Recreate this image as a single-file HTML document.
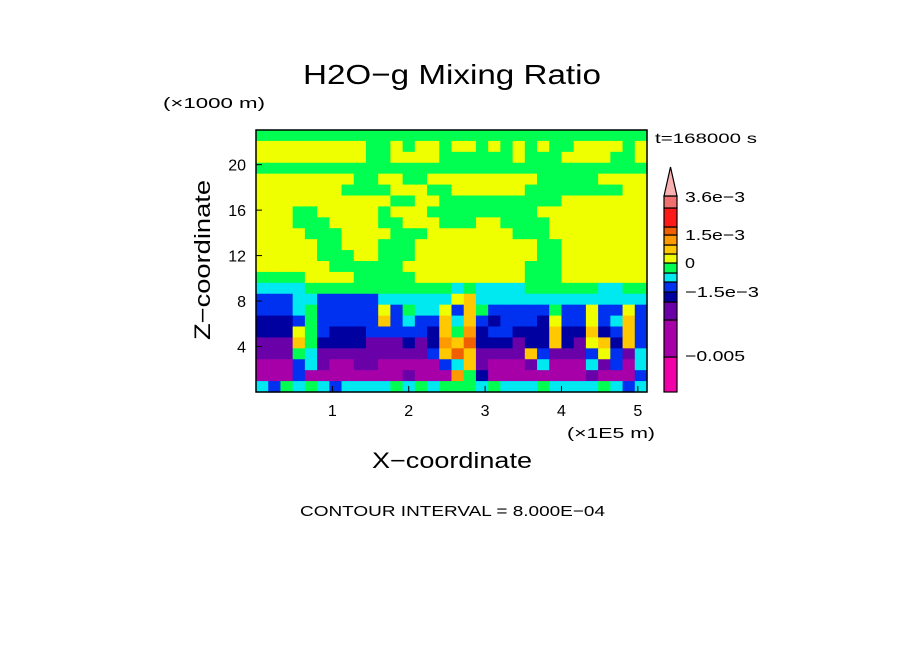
<!DOCTYPE html>
<html><head><meta charset="utf-8"><style>
body{margin:0;background:#fff;width:904px;height:654px;overflow:hidden}
svg text{font-family:"Liberation Sans",sans-serif;fill:#000}
</style></head><body>
<svg id="chart" width="904" height="654" xmlns="http://www.w3.org/2000/svg">
<text x="303" y="84" font-size="28" textLength="298" lengthAdjust="spacingAndGlyphs">H2O−g Mixing Ratio</text>
<text x="163" y="108" font-size="15" textLength="102" lengthAdjust="spacingAndGlyphs">(×1000 m)</text>
<text x="655" y="143" font-size="14" textLength="102" lengthAdjust="spacingAndGlyphs">t=168000 s</text>
<g id="field"></g>
<rect x="256" y="130" width="391" height="262" fill="none" stroke="#000" stroke-width="1.5"/>
<g id="ticks"></g>
<text x="567" y="438" font-size="15" textLength="88" lengthAdjust="spacingAndGlyphs">(×1E5 m)</text>
<text x="372" y="468" font-size="22" textLength="160" lengthAdjust="spacingAndGlyphs">X−coordinate</text>
<text transform="translate(210,340) rotate(-90)" font-size="22" textLength="160" lengthAdjust="spacingAndGlyphs">Z−coordinate</text>
<g id="cbar"></g>
<text x="300" y="516" font-size="15" textLength="305" lengthAdjust="spacingAndGlyphs">CONTOUR INTERVAL = 8.000E−04</text>
</svg>
<script>
const levelColors=["#f000a8","#a800a8","#6a00a8","#0000a0","#0030f0","#00e8f0","#00ff50","#f0ff00","#ffc800","#ff9900","#f06000","#ff1a1a","#f07070"];
const xTicks=[1,2,3,4,5];
const zTicks=[4,8,12,16,20];
const cbarLabels=["3.6e−3","1.5e−3","0","−1.5e−3","−0.005"];
const cbarLabelY=[197,235,263,292,356];
const cbarLabelW=[60,60,10,74,60];
const fieldRows=[
"66666666666666666666666666666666",
"77777777766767767767676766777767",
"77777777766777766666676667777667",
"66666666666666666666666666666666",
"77777777667766777777777666667777",
"77777776666777667777776666666677",
"77777777777667766666666667777777",
"77766777776777666666666777777777",
"77766677776677766677666677777777",
"77776667777666777777766677777777",
"77777667776667777777777667777777",
"77777666776667777777777667777777",
"77777766666677777777776667777777",
"66667777666667777777776667777777",
"55556666666666665655556666665566",
"44455444445555557855555555555555",
"44456444447465574864444464474474",
"33346444448454485843444374474584",
"33376433344444386934433383383484",
"22286333322232398a33323383278384",
"2226522222222248a822228422247425",
"11145211221111145821112511152415",
"11141111111121119631111111121114",
"54656545555656566656555655556545"];
const X0=256,Y0=130,W=391,H=262,XMAX=5.12,ZMAX=23.05;
const sx=v=>X0+v/XMAX*W, sz=v=>Y0+H-v/ZMAX*H;
const NS="http://www.w3.org/2000/svg";
function mk(t,a){const e=document.createElementNS(NS,t);for(const k in a)e.setAttribute(k,a[k]);return e;}
const field=document.getElementById('field');
const nr=fieldRows.length,nc=fieldRows[0].length,cw=W/nc,ch=H/nr;
fieldRows.forEach((row,r)=>{for(let c=0;c<nc;c++){
 const lv=parseInt(row[c],16);
 const e=mk('rect',{x:X0+c*cw,y:Y0+r*ch,width:cw+0.6,height:ch+0.6,fill:levelColors[lv]});
 
 
 field.appendChild(e);}});
const tk=document.getElementById('ticks');
xTicks.forEach(v=>{const x=sx(v);
 const l=mk('line',{x1:x,x2:x,y1:392,y2:386,stroke:'#000'});
 tk.appendChild(l);
 const t=mk('text',{x:x,y:416,'font-size':16,'text-anchor':'middle'});t.textContent=v;
 tk.appendChild(t);});
zTicks.forEach(v=>{const y=sz(v);
 const l=mk('line',{x1:256,x2:262,y1:y,y2:y,stroke:'#000'});
 tk.appendChild(l);
 const t=mk('text',{x:246,y:y+6,'font-size':16,'text-anchor':'end'});t.textContent=v;
 tk.appendChild(t);});
const cb=document.getElementById('cbar');
const bounds=[392,357,320,302,292,282,273,263,254,245,235,227,208,196];
for(let i=0;i<13;i++){
 const e=mk('rect',{x:664,y:bounds[i+1],width:13,height:bounds[i]-bounds[i+1],fill:levelColors[i],stroke:'#000','stroke-width':1.2});
 cb.appendChild(e);}
const tri=mk('polygon',{points:'664,196 677,196 670.5,167',fill:'#f8b0b0',stroke:'#000','stroke-width':1.2});
cb.appendChild(tri);
cbarLabels.forEach((s,i)=>{const t=mk('text',{x:685,y:cbarLabelY[i]+5,'font-size':15,textLength:cbarLabelW[i],lengthAdjust:'spacingAndGlyphs'});t.textContent=s;
 cb.appendChild(t);});
</script>
</body></html>
